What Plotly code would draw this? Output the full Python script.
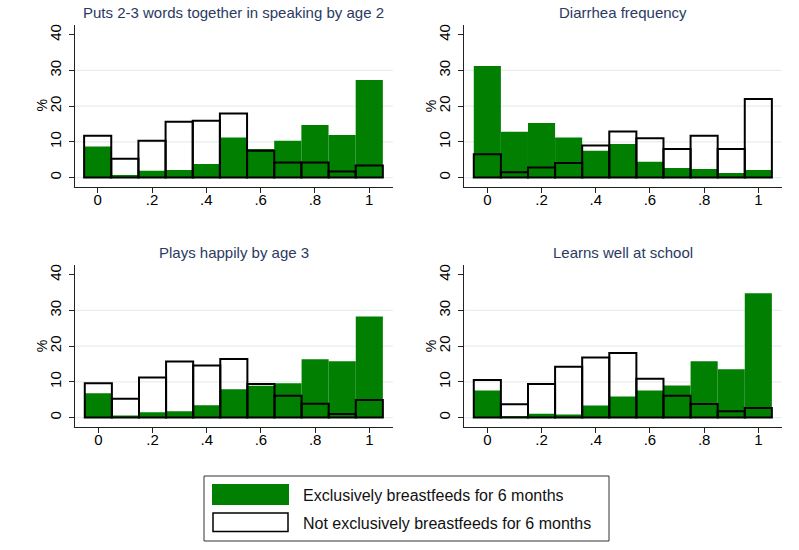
import plotly.graph_objects as go

W, H = 799, 550

bins = [0.0, 0.1, 0.2, 0.3, 0.4, 0.5, 0.6, 0.7, 0.8, 0.9, 1.0]
x_ticks = [0, 0.2, 0.4, 0.6, 0.8, 1.0]
x_ticklabels = ["0", ".2", ".4", ".6", ".8", "1"]
y_ticks = [0, 10, 20, 30, 40]
grid_vals = [0, 10, 20, 30]

titles = [
    "Puts 2-3 words together in speaking by age 2",
    "Diarrhea frequency",
    "Plays happily by age 3",
    "Learns well at school",
]

# % exclusively breastfed for 6 months
excl_speak = [8.7, 0.75, 1.9, 2.1, 3.8, 11.2, 8.0, 10.3, 14.7, 11.9, 27.3]
excl_diarr = [31.2, 12.8, 15.3, 11.2, 7.5, 9.4, 4.4, 2.7, 2.4, 1.3, 2.1]
excl_plays = [6.8, 0.56, 1.5, 1.8, 3.45, 7.9, 8.9, 9.6, 16.3, 15.8, 28.3]
excl_learn = [7.6, 0.47, 1.1, 0.84, 3.4, 5.9, 7.6, 9.0, 15.8, 13.5, 34.8]

# % not exclusively breastfed for 6 months
notx_speak = [11.7, 5.3, 10.3, 15.6, 15.9, 17.9, 7.5, 4.2, 4.2, 1.7, 3.4]
notx_diarr = [6.5, 1.5, 2.8, 4.1, 9.0, 12.9, 11.0, 8.0, 11.7, 8.0, 22.0]
notx_plays = [9.6, 5.3, 11.2, 15.7, 14.6, 16.4, 9.4, 6.1, 3.9, 1.0, 4.9]
notx_learn = [10.5, 3.7, 9.4, 14.2, 16.8, 18.1, 10.9, 6.1, 3.8, 1.8, 2.7]

excl = [excl_speak, excl_diarr, excl_plays, excl_learn]
notx = [notx_speak, notx_diarr, notx_plays, notx_learn]

legend_labels = ["Exclusively breastfeeds for 6 months",
                 "Not exclusively breastfeeds for 6 months"]

GREEN = "#007f00"
TITLE_COLOR = "#2a3a62"
GRID_COLOR = "#e6eef0"
FONT = "Liberation Sans, Arial, sans-serif"

# pixel layout of plot areas: (left, right, top, bottom)
areas = [
    (74.6, 392.9, 25.0, 186.7),
    (464.3, 781.9, 25.0, 186.7),
    (75.3, 392.9, 265.0, 426.7),
    (464.3, 781.9, 265.0, 426.7),
]
XR = [-0.085, 1.087]
YR = [-2.55, 42.7]

fig = go.Figure()
layout = dict(
    width=W, height=H, margin=dict(l=0, r=0, t=0, b=0),
    paper_bgcolor="white", plot_bgcolor="white",
    barmode="overlay", showlegend=False,
    font=dict(family=FONT, color="black"),
)
shapes = []
annotations = []


def px(x):
    return x / W


def py(y):
    return 1 - y / H


for i in range(4):
    n = "" if i == 0 else str(i + 1)
    L, R, T, B = areas[i]
    xd = [L / W, R / W]
    yd = [1 - B / H, 1 - T / H]
    xa, ya = "x" + n, "y" + n
    fig.add_trace(go.Bar(x=bins, y=excl[i], width=0.1, xaxis=xa, yaxis=ya,
                         marker=dict(color=GREEN, line=dict(width=0)),
                         name=legend_labels[0]))
    fig.add_trace(go.Bar(x=bins, y=notx[i], width=0.1, xaxis=xa, yaxis=ya,
                         marker=dict(color="rgba(0,0,0,0)",
                                     line=dict(color="black", width=2)),
                         name=legend_labels[1]))
    layout["xaxis" + n] = dict(
        domain=xd, range=XR, anchor=ya, tickvals=x_ticks, ticktext=x_ticklabels,
        ticks="outside", ticklen=5, tickwidth=1, tickcolor="#222",
        showline=True, linecolor="#222", linewidth=1, showgrid=False,
        zeroline=False, tickfont=dict(size=15, family=FONT), fixedrange=True,
        ticklabelstandoff=-6,
    )
    layout["yaxis" + n] = dict(
        domain=yd, range=YR, anchor=xa, tickvals=y_ticks, tickangle=-90,
        ticks="outside", ticklen=5, tickwidth=1, tickcolor="#222",
        showline=True, linecolor="#222", linewidth=1, showgrid=False,
        zeroline=False, tickfont=dict(size=15, family=FONT), fixedrange=True,
        ticklabelstandoff=2,
    )
    for g in grid_vals:
        shapes.append(dict(type="line", xref=xa + " domain", yref=ya,
                           x0=0, x1=1, y0=g, y1=g,
                           line=dict(color=GRID_COLOR, width=1.2), layer="below"))
    annotations.append(dict(text=titles[i], xref=xa + " domain", yref="paper",
                            x=0.5, y=1 - (T - 13) / H, showarrow=False,
                            xanchor="center", yanchor="middle",
                            font=dict(size=15, color=TITLE_COLOR, family=FONT)))
    annotations.append(dict(text="%", xref="paper", yref=ya + " domain",
                            x=px(L - 33), y=0.5, showarrow=False, textangle=-90,
                            xanchor="center", yanchor="middle",
                            font=dict(size=14, color="black", family=FONT)))

# legend box (paper coordinates)
shapes.append(dict(type="rect", xref="paper", yref="paper",
                   x0=px(204), x1=px(609), y0=py(541), y1=py(476),
                   line=dict(color="#333", width=1), fillcolor="white"))
shapes.append(dict(type="rect", xref="paper", yref="paper",
                   x0=px(212), x1=px(289), y0=py(505), y1=py(484),
                   line=dict(width=0), fillcolor=GREEN))
shapes.append(dict(type="rect", xref="paper", yref="paper",
                   x0=px(213), x1=px(288), y0=py(531.5), y1=py(513),
                   line=dict(color="black", width=1.5), fillcolor="white"))
for lab, yc in zip(legend_labels, [495, 523]):
    annotations.append(dict(text=lab, xref="paper", yref="paper",
                            x=px(301), y=py(yc), showarrow=False,
                            xanchor="left", yanchor="middle",
                            font=dict(size=16, color="#111", family=FONT)))

layout["shapes"] = shapes
layout["annotations"] = annotations
fig.update_layout(**layout)
fig.write_html("out.html")
